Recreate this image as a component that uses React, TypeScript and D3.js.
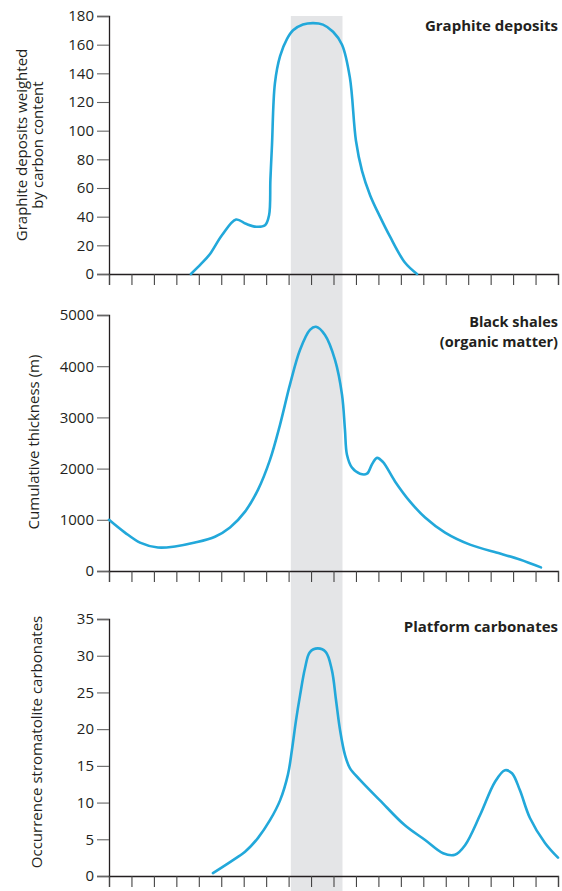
import React, { useEffect, useRef } from 'react';
import * as d3 from 'd3';

// x positions are in tick units (21 unlabelled ticks, 0..20)
const tickIndex = d3.range(0, 21);
const bandRange = [8.1, 10.4];

const graphiteX = [3.65, 4.1, 4.5, 5.03, 5.66, 6.1, 6.55, 6.95, 7.13, 7.19, 7.26, 7.39, 7.62, 7.93, 8.2, 8.64, 9.09, 9.53, 9.98, 10.38, 10.73, 11.0, 11.27, 11.63, 12.07, 12.52, 13.18, 13.72];
const graphiteY = [0, 7, 14, 27, 38, 35, 33, 34, 41, 66, 90, 133, 152, 164, 170, 174, 175, 174, 169, 160, 137, 93, 72, 55, 40, 26, 8, 0];

const shaleX = [0, 0.71, 1.38, 2.18, 2.94, 3.83, 4.72, 5.39, 6.06, 6.64, 7.17, 7.62, 8.06, 8.51, 8.95, 9.22, 9.62, 10.07, 10.38, 10.51, 10.6, 10.82, 11.18, 11.49, 11.71, 11.94, 12.2, 12.74, 13.41, 14.08, 14.97, 16.08, 17.42, 18.3, 19.24];
const shaleY = [1000, 750, 555, 460, 480, 555, 670, 850, 1160, 1590, 2170, 2860, 3640, 4320, 4710, 4770, 4610, 4120, 3440, 2760, 2270, 2020, 1900, 1900, 2080, 2210, 2130, 1750, 1355, 1045, 750, 515, 340, 225, 70];

const carbonateX = [4.63, 5.39, 6.06, 6.64, 7.17, 7.62, 7.97, 8.15, 8.33, 8.51, 8.73, 8.95, 9.3, 9.66, 9.93, 10.11, 10.29, 10.51, 10.73, 11.18, 12.07, 13.18, 14.08, 14.88, 15.41, 15.86, 16.53, 17.19, 17.64, 17.95, 18.3, 18.75, 19.42, 20];
const carbonateY = [0.4, 1.9, 3.3, 5.2, 7.6, 10.3, 13.8, 17.2, 21.2, 24.6, 28.3, 30.5, 31.0, 30.5, 28, 24, 19.9, 16.5, 14.7, 13.1, 10.3, 6.9, 4.9, 3.1, 2.9, 4.2, 8.3, 12.8, 14.4, 14.0, 11.7, 7.9, 4.5, 2.5];

const graphiteTicks = d3.range(0, 181, 20);
const shaleTicks = d3.range(0, 5001, 1000);
const carbonateTicks = d3.range(0, 36, 5);

const App = () => {
  const svgRef = useRef(null);
  const width = 562;
  const height = 891;

  useEffect(() => {
    const svg = d3.select(svgRef.current);
    svg.selectAll('*').remove();

    const font = "'Open Sans', sans-serif";
    const ink = '#231f20';
    const x = d3.scaleLinear().domain([0, 20]).range([109, 558]);

    // grey band behind all three panels
    svg.append('rect')
      .attr('x', x(bandRange[0]))
      .attr('y', 16)
      .attr('width', x(bandRange[1]) - x(bandRange[0]))
      .attr('height', height - 16)
      .attr('fill', '#e4e5e7');

    const panels = [
      { xs: graphiteX, ys: graphiteY, ticks: graphiteTicks, max: 180, top: 16, bottom: 274,
        yTitle: ['Graphite deposits weighted', 'by carbon content'], yTitleX: [22, 38], yTitleY: 145,
        title: ['Graphite deposits'], titleY: 31, titleSize: 15, titleGap: 0 },
      { xs: shaleX, ys: shaleY, ticks: shaleTicks, max: 5000, top: 315, bottom: 571,
        yTitle: ['Cumulative thickness (m)'], yTitleX: [34], yTitleY: 442,
        title: ['Black shales', '(organic matter)'], titleY: 327, titleSize: 14.5, titleGap: 20 },
      { xs: carbonateX, ys: carbonateY, ticks: carbonateTicks, max: 35, top: 619, bottom: 876,
        yTitle: ['Occurrence stromatolite carbonates'], yTitleX: [37], yTitleY: 742,
        title: ['Platform carbonates'], titleY: 632, titleSize: 15, titleGap: 0 },
    ];

    panels.forEach(p => {
      const y = d3.scaleLinear().domain([0, p.max]).range([p.bottom, p.top]);
      const g = svg.append('g');

      // y axis
      const yAxis = g.append('g')
        .attr('transform', `translate(${x(0)},0)`)
        .call(d3.axisLeft(y).tickValues(p.ticks).tickFormat(d3.format('d')).tickSize(12).tickPadding(3));
      yAxis.select('.domain').attr('stroke', ink).attr('stroke-width', 1.3);
      yAxis.selectAll('.tick line').attr('stroke', '#666').attr('stroke-width', 1.1);
      yAxis.selectAll('.tick text')
        .attr('fill', ink)
        .style('font-family', font)
        .style('font-size', '15px');

      // x axis (unlabelled ticks)
      const xAxis = g.append('g')
        .attr('transform', `translate(0,${p.bottom})`)
        .call(d3.axisBottom(x).tickValues(tickIndex).tickSize(11).tickFormat(() => ''));
      xAxis.select('.domain').attr('stroke', ink).attr('stroke-width', 1.3);
      xAxis.selectAll('.tick line').attr('stroke', '#444').attr('stroke-width', 1.1);

      // curve
      const pts = p.xs.map((v, i) => [v, p.ys[i]]);
      const line = d3.line()
        .x(d => x(d[0]))
        .y(d => y(d[1]))
        .curve(d3.curveCatmullRom.alpha(0.5));
      g.append('path')
        .datum(pts)
        .attr('d', line)
        .attr('fill', 'none')
        .attr('stroke', '#22a8da')
        .attr('stroke-width', 2.6)
        .attr('stroke-linejoin', 'round')
        .attr('stroke-linecap', 'round');

      // y title
      p.yTitle.forEach((t, i) => {
        g.append('text')
          .attr('transform', `translate(${p.yTitleX[i]},${p.yTitleY}) rotate(-90)`)
          .attr('text-anchor', 'middle')
          .attr('dy', '0.35em')
          .attr('fill', ink)
          .style('font-family', font)
          .style('font-size', '15px')
          .text(t);
      });

      // panel title
      p.title.forEach((t, i) => {
        g.append('text')
          .attr('x', 558)
          .attr('y', p.titleY + i * p.titleGap)
          .attr('text-anchor', 'end')
          .attr('fill', ink)
          .style('font-family', font)
          .style('font-size', `${p.titleSize}px`)
          .style('font-weight', 700)
          .text(t);
      });
    });
  }, []);

  return (
    <svg
      ref={svgRef}
      width={width}
      height={height}
      style={{ position: 'absolute', left: 0, top: 0, background: '#fff' }}
    />
  );
};

export default App;
